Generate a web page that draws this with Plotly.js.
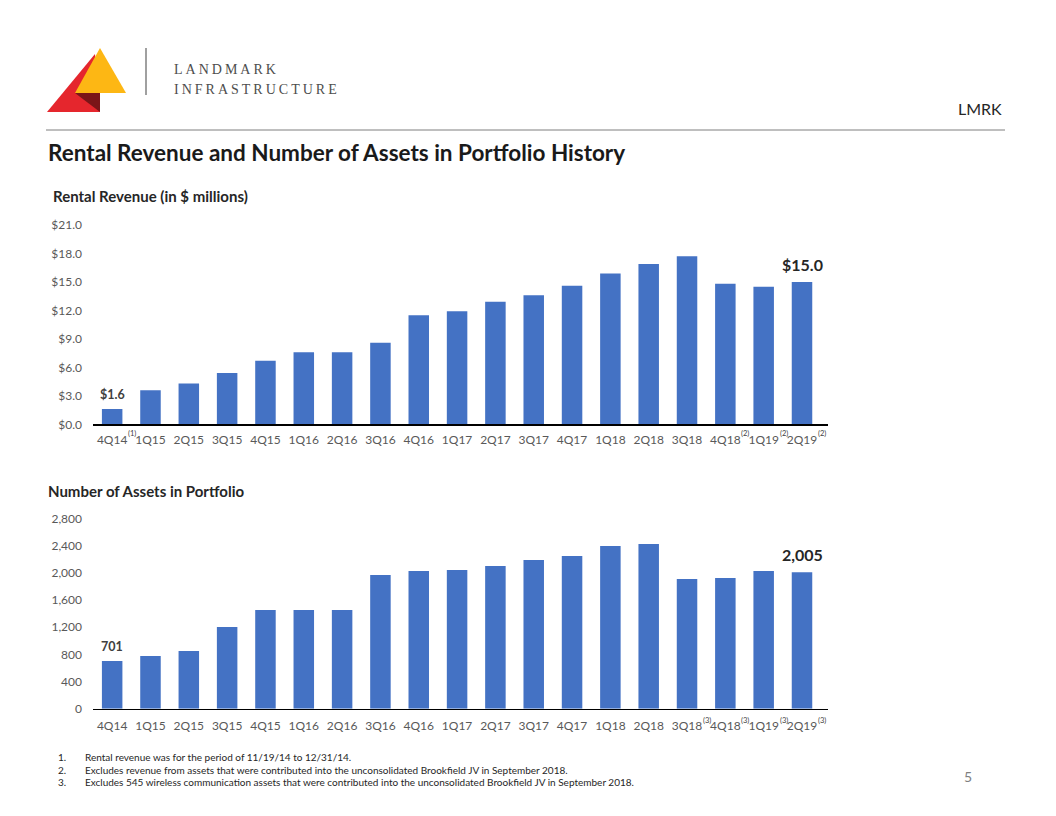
<!DOCTYPE html>
<html>
<head>
<meta charset="utf-8">
<script src="https://cdn.plot.ly/plotly-3.0.1.min.js"></script>
<style>
html,body{margin:0;padding:0;background:#fff;}
#chart{width:1056px;height:816px;}
.spaced text{letter-spacing:3px;}
</style>
</head>
<body>
<div id="chart"></div>
<script>
// ---- data ----
const quarters = ["4Q14","1Q15","2Q15","3Q15","4Q15","1Q16","2Q16","3Q16","4Q16","1Q17","2Q17","3Q17","4Q17","1Q18","2Q18","3Q18","4Q18","1Q19","2Q19"];
const rentalRevenue = [1.6,3.6,4.3,5.4,6.7,7.6,7.6,8.6,11.5,11.9,12.9,13.6,14.6,15.9,16.9,17.7,14.8,14.5,15.0];
const assetCount = [701,775,848,1201,1451,1451,1451,1966,2025,2040,2098,2187,2246,2393,2422,1907,1922,2025,2005];
const revenueNotes = ["(1)","","","","","","","","","","","","","","","","(2)","(2)","(2)"];
const assetNotes = ["","","","","","","","","","","","","","","","(3)","(3)","(3)","(3)"];
const revenueTicks = [0,3,6,9,12,15,18,21];
const revenueTickText = ["$0.0","$3.0","$6.0","$9.0","$12.0","$15.0","$18.0","$21.0"];
const assetTicks = [0,400,800,1200,1600,2000,2400,2800];
const assetTickText = ["0","400","800","1,200","1,600","2,000","2,400","2,800"];
const footnotes = [
  "Rental revenue was for the period of 11/19/14 to 12/31/14.",
  "Excludes revenue from assets that were contributed into the unconsolidated Brookfield JV in September 2018.",
  "Excludes 545 wireless communication assets that were contributed into the unconsolidated Brookfield JV in September 2018."
];

// ---- layout helpers (pixel -> paper) ----
const W = 1056, H = 816;
const px = x => x / W;
const py = y => 1 - y / H;
const FONT = "Lato, 'Open Sans', sans-serif";
const BAR = "#4472C4";
const GREY = "#595959";

const xDomain = [px(93), px(828)];
const topDomain = [py(424.3), py(225)];
const botDomain = [py(708.7), py(518.3)];

const traces = [
  {type:"bar", x:quarters, y:rentalRevenue, xaxis:"x", yaxis:"y", marker:{color:BAR}, hoverinfo:"x+y"},
  {type:"bar", x:quarters, y:assetCount, xaxis:"x2", yaxis:"y2", marker:{color:BAR}, hoverinfo:"x+y"}
];

const ann = [];
function txt(text, x, y, size, opts) {
  ann.push(Object.assign({text:text, x:px(x), y:py(y), xref:"paper", yref:"paper",
    xanchor:"left", yanchor:"middle", align:"left", showarrow:false,
    font:{family:FONT, size:size, color:"#262626"}}, opts||{}));
}
// header
txt("LANDMARK", 172, 69, 14, {font:{family:"'Liberation Serif', serif", size:14, color:"#4d4d4d"}});
txt("INFRASTRUCTURE", 172, 89, 14, {font:{family:"'Liberation Serif', serif", size:14, color:"#4d4d4d"}});
txt("LMRK", 1004, 109, 16, {xanchor:"right", font:{family:FONT, size:16, color:"#262626"}});
txt("<b>Rental Revenue and Number of Assets in Portfolio History</b>", 46, 152, 22.5, {font:{family:FONT, size:22.5, color:"#1a1a1a"}});
txt("<b>Rental Revenue (in $ millions)</b>", 51, 196, 15, {font:{family:FONT, size:15, color:"#262626"}});
txt("<b>Number of Assets in Portfolio</b>", 46, 491, 15, {font:{family:FONT, size:15, color:"#262626"}});
// footnotes
footnotes.forEach((f, i) => {
  txt((i+1) + ".", 56, 757 + i*12.5, 10, {font:{family:FONT, size:10, color:"#262626"}});
  txt(f, 83, 757 + i*12.5, 10, {font:{family:FONT, size:10, color:"#262626"}});
});
txt("5", 968, 776, 14, {xanchor:"center", font:{family:FONT, size:14, color:"#7f7f7f"}});

// data labels (first / last)
const last = quarters.length - 1;
ann.push({x:quarters[0], y:rentalRevenue[0], xref:"x", yref:"y", yanchor:"bottom", yshift:5, showarrow:false,
  text:"<b>$" + rentalRevenue[0].toFixed(1) + "</b>", font:{family:FONT, size:12.5, color:"#404040"}});
ann.push({x:quarters[last], y:rentalRevenue[last], xref:"x", yref:"y", yanchor:"bottom", yshift:6, showarrow:false,
  text:"<b>$" + rentalRevenue[last].toFixed(1) + "</b>", font:{family:FONT, size:16, color:"#262626"}});
ann.push({x:quarters[0], y:assetCount[0], xref:"x2", yref:"y2", yanchor:"bottom", yshift:5, showarrow:false,
  text:"<b>" + assetCount[0].toLocaleString("en-US") + "</b>", font:{family:FONT, size:12.5, color:"#404040"}});
ann.push({x:quarters[last], y:assetCount[last], xref:"x2", yref:"y2", yanchor:"bottom", yshift:6, showarrow:false,
  text:"<b>" + assetCount[last].toLocaleString("en-US") + "</b>", font:{family:FONT, size:16, color:"#262626"}});

// footnote markers on tick labels
revenueNotes.forEach((n, i) => { if (n) ann.push({x:quarters[i], y:0, xref:"x", yref:"y", xshift:20, yshift:-9,
  showarrow:false, text:n, font:{family:FONT, size:7.5, color:"#404040"}}); });
assetNotes.forEach((n, i) => { if (n) ann.push({x:quarters[i], y:0, xref:"x2", yref:"y2", xshift:20, yshift:-12,
  showarrow:false, text:n, font:{family:FONT, size:7.5, color:"#404040"}}); });

// logo + rules
const pt = (x, y) => px(x).toFixed(5) + "," + py(y).toFixed(5);
const shapes = [
  {type:"path", xref:"paper", yref:"paper", path:"M" + pt(47,112) + " L" + pt(95,54) + " L" + pt(100,112) + " Z", fillcolor:"#E5262D", line:{width:0}},
  {type:"path", xref:"paper", yref:"paper", path:"M" + pt(100,48) + " L" + pt(126,93) + " L" + pt(75,93) + " Z", fillcolor:"#FDB714", line:{width:0}},
  {type:"path", xref:"paper", yref:"paper", path:"M" + pt(75,93) + " L" + pt(100,93) + " L" + pt(100,112) + " Z", fillcolor:"#7A1518", line:{width:0}},
  {type:"line", xref:"paper", yref:"paper", x0:px(146), x1:px(146), y0:py(48), y1:py(95), line:{color:"#808080", width:1.5}},
  {type:"line", xref:"paper", yref:"paper", x0:px(46), x1:px(1005), y0:py(130), y1:py(130), line:{color:"#7f7f7f", width:1}}
];

const xCommon = {type:"category", domain:xDomain, showgrid:false, zeroline:false, showline:true, linecolor:"#000", linewidth:1.5,
  ticks:"", tickfont:{family:FONT, size:12, color:GREY}, fixedrange:true};
const layout = {
  width:W, height:H, margin:{l:0, r:0, t:0, b:0}, paper_bgcolor:"#fff", plot_bgcolor:"#fff",
  showlegend:false, bargap:0.465, font:{family:FONT},
  xaxis: Object.assign({}, xCommon, {anchor:"y", ticklabelstandoff:4}),
  xaxis2: Object.assign({}, xCommon, {anchor:"y2", ticklabelstandoff:5}),
  yaxis: {domain:topDomain, range:[0,21], tickvals:revenueTicks, ticktext:revenueTickText, showgrid:false, zeroline:false,
    showline:false, ticks:"", ticklabelstandoff:10, tickfont:{family:FONT, size:12, color:GREY}, anchor:"x", fixedrange:true},
  yaxis2: {domain:botDomain, range:[0,2800], tickvals:assetTicks, ticktext:assetTickText, showgrid:false, zeroline:false,
    showline:false, ticks:"", ticklabelstandoff:10, tickfont:{family:FONT, size:12, color:GREY}, anchor:"x2", fixedrange:true},
  annotations: ann, shapes: shapes
};
Plotly.newPlot("chart", traces, layout, {displayModeBar:false, staticPlot:true}).then(() => {
  document.querySelectorAll(".annotation").forEach(a => {
    const t = a.textContent;
    if (t === "LANDMARK" || t === "INFRASTRUCTURE") a.classList.add("spaced");
  });
});
</script>
</body>
</html>
